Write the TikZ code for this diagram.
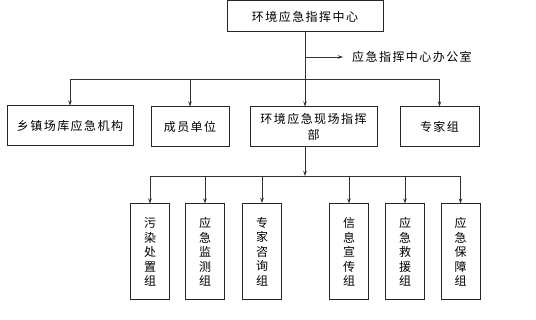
\documentclass[tikz,border=0pt]{standalone}
\usepackage{fontspec}
\newfontfamily\cjk[LetterSpace=12]{Noto Sans CJK SC}
\usetikzlibrary{arrows.meta}
\tikzset{
  box/.style={draw=black!85,line width=1pt,inner sep=0pt,font=\cjk\fontsize{12}{14}\selectfont,text=black},
  hbox/.style={box,minimum height=40pt},
  vbox/.style={box,minimum width=39pt,minimum height=96pt,align=center,font=\cjk\fontsize{12}{14.5}\selectfont},
  conn/.style={draw=black!80,line width=0.8pt},
  arr/.style={conn,-{Stealth[length=5pt,width=3.5pt]}}
}
\begin{document}
\begin{tikzpicture}[x=1pt,y=-1pt]
\useasboundingbox (0,0) rectangle (536,320);
\node[box,minimum width=156pt,minimum height=31pt] (top) at (305,16.5) {环境应急指挥中心};
\node[anchor=west,inner sep=0pt,font=\cjk\fontsize{12}{14}\selectfont] (office) at (352,57) {应急指挥中心办公室};
\node[hbox,minimum width=126pt] (n1) at (70,126) {乡镇场库应急机构};
\node[hbox,minimum width=78pt] (n2) at (190,127) {成员单位};
\node[hbox,minimum width=127pt,align=center,font=\cjk\fontsize{12}{16}\selectfont] (n3) at (313.5,127) {环境应急现场指挥\\部};
\node[hbox,minimum width=79pt] (n4) at (439.5,127) {专家组};
\node[vbox] (g1) at (150,252) {污\\染\\处\\置\\组};
\node[vbox] (g2) at (205,252) {应\\急\\监\\测\\组};
\node[vbox] (g3) at (262,251.5) {专\\家\\咨\\询\\组};
\node[vbox] (g4) at (349,252) {信\\息\\宣\\传\\组};
\node[vbox] (g5) at (405,252) {应\\急\\救\\援\\组};
\node[vbox] (g6) at (460.5,252) {应\\急\\保\\障\\组};
\coordinate (br) at (305,57);
\coordinate (bus) at (305,79);
\coordinate (bus2) at (305,176);
% top level
\draw[arr] (top.south) -- (top.south |- n3.north);
\draw[arr] (br) -- ([xshift=-9pt]office.west);
\draw[conn] (n1.north |- bus) -- (n4.north |- bus);
\draw[arr] (n1.north |- bus) -- (n1.north);
\draw[arr] (n2.north |- bus) -- (n2.north);
\draw[arr] (n4.north |- bus) -- (n4.north);
% second level
\draw[arr] (top.south |- n3.south) -- (bus2);
\draw[conn] (g1.north |- bus2) -- (g6.north |- bus2);
\foreach \g in {g1,g2,g3,g4,g5,g6}{
  \draw[arr] (\g.north |- bus2) -- (\g.north);
}
\end{tikzpicture}
\end{document}
